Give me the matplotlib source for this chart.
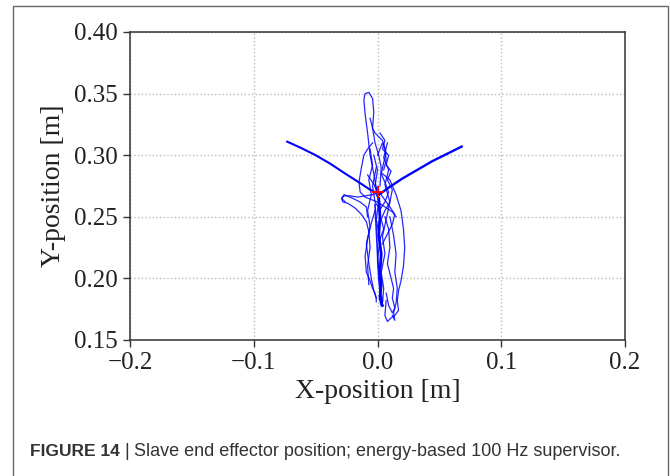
import matplotlib.pyplot as plt
from matplotlib.patches import Rectangle

# Slave end effector trajectory (metres)
# The two long arms left and right of the start point
left_arm_x = [-0.073, -0.062, -0.050, -0.038, -0.026, -0.015, -0.006, 0.000]
left_arm_y = [0.311, 0.306, 0.300, 0.293, 0.285, 0.278, 0.272, 0.269]
right_arm_x = [0.000, 0.008, 0.020, 0.032, 0.044, 0.056, 0.068]
right_arm_y = [0.267, 0.273, 0.281, 0.288, 0.295, 0.301, 0.307]

# The tangle of strokes around the vertical column
top_loop_x = [0.000, -0.003, -0.006, -0.008, -0.010, -0.011, -0.010, -0.007, -0.004, -0.003, -0.004, -0.002, 0.001, 0.003, 0.002]
top_loop_y = [0.268, 0.285, 0.300, 0.318, 0.333, 0.345, 0.350, 0.351, 0.346, 0.335, 0.322, 0.310, 0.300, 0.290, 0.275]
right_zigzag_x = [0.002, 0.006, 0.004, 0.009, 0.007, 0.011, 0.008, 0.012, 0.010, 0.006, 0.003, 0.005, 0.002]
right_zigzag_y = [0.318, 0.312, 0.305, 0.300, 0.292, 0.287, 0.280, 0.272, 0.262, 0.255, 0.248, 0.240, 0.232]
left_edge_x = [-0.004, -0.008, -0.011, -0.013, -0.015, -0.014, -0.010, -0.005, 0.000, 0.006, 0.012, 0.015]
left_edge_y = [0.310, 0.305, 0.300, 0.290, 0.278, 0.270, 0.266, 0.264, 0.262, 0.258, 0.254, 0.250]
hook_x = [0.004, -0.004, -0.010, -0.016, -0.022, -0.027, -0.029, -0.028, -0.024, -0.018, -0.013, -0.009, -0.007, -0.006, -0.008, -0.007]
hook_y = [0.270, 0.268, 0.267, 0.266, 0.267, 0.267, 0.265, 0.262, 0.261, 0.257, 0.252, 0.246, 0.238, 0.225, 0.210, 0.195]
hook_outer_x = [-0.026, -0.029, -0.027, -0.020, -0.014, -0.009, -0.008]
hook_outer_y = [0.262, 0.265, 0.268, 0.265, 0.262, 0.258, 0.250]
wide_loop_x = [0.004, 0.010, 0.015, 0.019, 0.021, 0.022, 0.021, 0.019, 0.017, 0.016, 0.017, 0.014, 0.011, 0.008, 0.006, 0.007]
wide_loop_y = [0.285, 0.280, 0.268, 0.255, 0.240, 0.225, 0.210, 0.198, 0.190, 0.182, 0.174, 0.170, 0.168, 0.165, 0.170, 0.182]
column_x = [0.001, 0.002, 0.001, 0.003, 0.002, 0.003, 0.002, 0.003, 0.004]
column_y = [0.265, 0.250, 0.235, 0.220, 0.205, 0.195, 0.185, 0.180, 0.178]
column2_x = [-0.002, -0.001, 0.000, 0.001, 0.002, 0.004, 0.003]
column2_y = [0.260, 0.240, 0.220, 0.200, 0.190, 0.182, 0.178]
lower_left_x = [-0.002, -0.005, -0.008, -0.010, -0.009, -0.006, -0.004, -0.002, -0.001, -0.001]
lower_left_y = [0.255, 0.245, 0.232, 0.218, 0.205, 0.198, 0.192, 0.188, 0.184, 0.181]
lower_right_x = [0.006, 0.009, 0.010, 0.008, 0.011, 0.013, 0.012, 0.014, 0.012, 0.009, 0.007]
lower_right_y = [0.250, 0.240, 0.225, 0.212, 0.200, 0.192, 0.184, 0.176, 0.172, 0.178, 0.188]
diagonal_x = [-0.008, -0.004, 0.000, 0.005, 0.010, 0.014, 0.012, 0.008, 0.004]
diagonal_y = [0.284, 0.278, 0.272, 0.265, 0.258, 0.252, 0.244, 0.236, 0.228]
upper_tangle_x = [0.000, 0.004, 0.007, 0.005, 0.003, 0.006, 0.009, 0.006, 0.002, -0.002, -0.004, -0.001]
upper_tangle_y = [0.300, 0.310, 0.302, 0.294, 0.285, 0.278, 0.270, 0.262, 0.256, 0.262, 0.275, 0.290]
left_wiggle_x = [-0.006, -0.004, -0.007, -0.005, -0.008, -0.006, -0.009, -0.007, -0.005, -0.003, -0.001]
left_wiggle_y = [0.305, 0.292, 0.280, 0.268, 0.255, 0.242, 0.228, 0.212, 0.200, 0.190, 0.184]
right_wiggle_x = [0.008, 0.005, 0.009, 0.006, 0.010, 0.007, 0.004, 0.006, 0.003, 0.005, 0.004]
right_wiggle_y = [0.310, 0.298, 0.288, 0.276, 0.262, 0.248, 0.234, 0.220, 0.205, 0.192, 0.180]
bottom_right_x = [0.010, 0.013, 0.015, 0.014, 0.016, 0.015, 0.013, 0.014, 0.012]
bottom_right_y = [0.250, 0.235, 0.220, 0.205, 0.192, 0.180, 0.172, 0.166, 0.170]
top_right_x = [-0.006, -0.004, -0.002, 0.001, 0.004, 0.006, 0.007, 0.005]
top_right_y = [0.330, 0.322, 0.318, 0.315, 0.312, 0.306, 0.296, 0.288]
middle_x = [-0.003, 0.000, -0.002, 0.001, -0.001, 0.002, 0.000, 0.002]
middle_y = [0.300, 0.288, 0.275, 0.262, 0.248, 0.232, 0.215, 0.198]

# Start point (red cross)
start_x = [0.000]
start_y = [0.270]

x_ticks = [-0.2, -0.1, 0.0, 0.1, 0.2]
x_tick_labels = ['\u22120.2', '\u22120.1', '0.0', '0.1', '0.2']
y_ticks = [0.15, 0.20, 0.25, 0.30, 0.35, 0.40]
y_tick_labels = ['0.15', '0.20', '0.25', '0.30', '0.35', '0.40']

caption_bold = 'FIGURE 14'
caption_bar = ' | '
caption_text = 'Slave end effector position; energy-based 100 Hz supervisor.'

plt.rcParams['font.family'] = 'Liberation Serif'

fig = plt.figure(figsize=(6.7, 4.76), dpi=100)
ax = fig.add_axes([130 / 670, 1 - 340 / 476, 495 / 670, 308 / 476])

# Thin tangled strokes
strokes = [
    (top_loop_x, top_loop_y), (right_zigzag_x, right_zigzag_y), (left_edge_x, left_edge_y),
    (hook_x, hook_y), (hook_outer_x, hook_outer_y), (wide_loop_x, wide_loop_y),
    (lower_left_x, lower_left_y), (lower_right_x, lower_right_y),
    (diagonal_x, diagonal_y), (upper_tangle_x, upper_tangle_y),
    (left_wiggle_x, left_wiggle_y), (right_wiggle_x, right_wiggle_y),
    (bottom_right_x, bottom_right_y), (top_right_x, top_right_y), (middle_x, middle_y),
]
for sx, sy in strokes:
    ax.plot(sx, sy, color='blue', linewidth=0.9, alpha=0.85)

# The central column and long arms are traced many times, so draw them heavier
ax.plot(column_x, column_y, color='blue', linewidth=2.0)
ax.plot(column2_x, column2_y, color='blue', linewidth=1.2, alpha=0.9)
ax.plot(left_arm_x, left_arm_y, color='blue', linewidth=1.5)
ax.plot(right_arm_x, right_arm_y, color='blue', linewidth=1.7)

ax.plot(start_x, start_y, '+', color='red', markersize=9, markeredgewidth=1.5)

ax.set_xlim(-0.2, 0.2)
ax.set_ylim(0.15, 0.40)
ax.set_xticks(x_ticks)
ax.set_xticklabels(x_tick_labels)
ax.set_yticks(y_ticks)
ax.set_yticklabels(y_tick_labels)
ax.tick_params(labelsize=18, length=5, width=1, color='#333333', labelcolor='#222222')
ax.set_xlabel('X-position [m]', fontsize=20, color='#222222', labelpad=4)
ax.set_ylabel('Y-position [m]', fontsize=20, color='#222222', labelpad=6)
ax.grid(True, linestyle=':', color='#bbbbbb', linewidth=1)
for spine in ax.spines.values():
    spine.set_color('#333333')
    spine.set_linewidth(1.1)

# Frame around the figure and the caption underneath
fig.patches.append(Rectangle((13 / 670, -0.05), 655 / 670, 1.05 - 6 / 476,
                             transform=fig.transFigure, fill=False,
                             edgecolor='#666666', linewidth=1))

cap_y = 1 - 451 / 476
fig.canvas.draw()
x_pos = 30 / 670
for part, weight, size in [(caption_bold, 'bold', 12.5), (caption_bar, 'normal', 13), (caption_text, 'normal', 13)]:
    t = fig.text(x_pos, cap_y, part, fontsize=size, fontweight=weight,
                 family='Liberation Sans', color='#333333', va='center')
    x_pos = t.get_window_extent(fig.canvas.get_renderer()).x1 / fig.bbox.width

fig.savefig('out.png', dpi=100)
